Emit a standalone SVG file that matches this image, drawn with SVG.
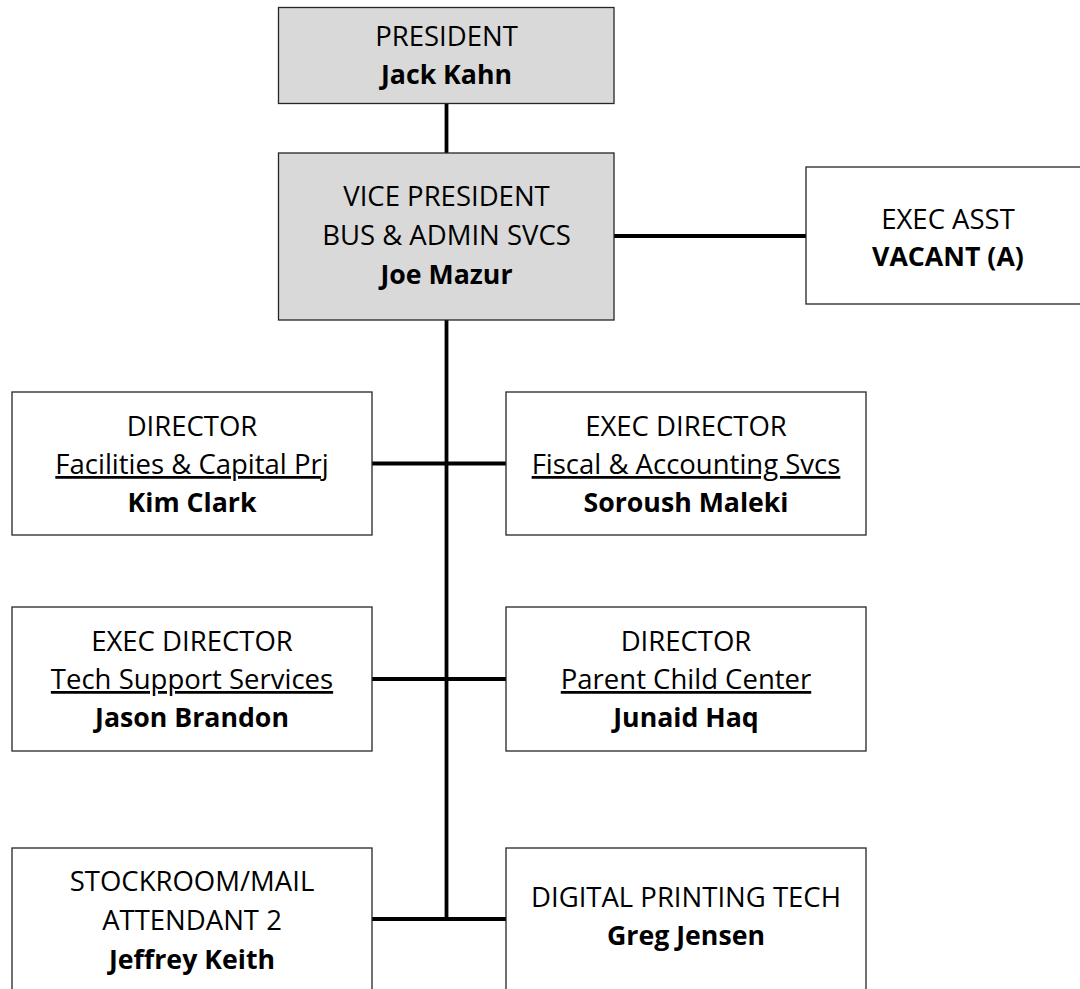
<svg xmlns="http://www.w3.org/2000/svg" width="1080" height="989" viewBox="0 0 1080 989">
<style>
.box{fill:#fff;stroke:#262626;stroke-width:1.3}
.grey{fill:#d9d9d9}
text{font-family:"Open Sans","Liberation Sans",sans-serif;font-size:27.5px;fill:#000;text-anchor:middle}
.b{font-weight:bold;font-size:26.7px}
.u{text-decoration:underline}
.c{stroke:#000;stroke-width:3.8;fill:none}
</style>
<rect width="1080" height="989" fill="#fff"/>
<g id="connectors">
<line class="c" x1="446.5" y1="103.5" x2="446.5" y2="153"/>
<line class="c" x1="614" y1="236" x2="806" y2="236"/>
<line class="c" x1="446.5" y1="320" x2="446.5" y2="919"/>
<line class="c" x1="372" y1="463.5" x2="506" y2="463.5"/>
<line class="c" x1="372" y1="679" x2="506" y2="679"/>
<line class="c" x1="372" y1="919" x2="506" y2="919"/>
</g>
<g id="president">
<rect class="box grey" x="278.5" y="7.5" width="335.5" height="96"/>
<text x="446.5" y="46">PRESIDENT</text>
<text class="b" x="446.5" y="84">Jack Kahn</text>
</g>
<g id="vp">
<rect class="box grey" x="278.5" y="153" width="335.5" height="167"/>
<text x="446.5" y="206">VICE PRESIDENT</text>
<text x="446.5" y="245">BUS &amp; ADMIN SVCS</text>
<text class="b" x="446.5" y="284">Joe Mazur</text>
</g>
<g id="exec-asst">
<rect class="box" x="806" y="167" width="290" height="137"/>
<text x="948" y="229">EXEC ASST</text>
<text class="b" x="948" y="266">VACANT (A)</text>
</g>
<g id="facilities">
<rect class="box" x="12" y="392" width="360" height="143"/>
<text x="192" y="436">DIRECTOR</text>
<text class="u" x="192" y="474">Facilities &amp; Capital Prj</text>
<text class="b" x="192" y="512">Kim Clark</text>
</g>
<g id="fiscal">
<rect class="box" x="506" y="392" width="360" height="143"/>
<text x="686" y="436">EXEC DIRECTOR</text>
<text class="u" x="686" y="474">Fiscal &amp; Accounting Svcs</text>
<text class="b" x="686" y="512">Soroush Maleki</text>
</g>
<g id="tech">
<rect class="box" x="12" y="607" width="360" height="144"/>
<text x="192" y="651">EXEC DIRECTOR</text>
<text class="u" x="192" y="689">Tech Support Services</text>
<text class="b" x="192" y="727">Jason Brandon</text>
</g>
<g id="parent-child">
<rect class="box" x="506" y="607" width="360" height="144"/>
<text x="686" y="651">DIRECTOR</text>
<text class="u" x="686" y="689">Parent Child Center</text>
<text class="b" x="686" y="727">Junaid Haq</text>
</g>
<g id="stockroom">
<rect class="box" x="12" y="848" width="360" height="160"/>
<text x="192" y="891">STOCKROOM/MAIL</text>
<text x="192" y="930">ATTENDANT 2</text>
<text class="b" x="192" y="969">Jeffrey Keith</text>
</g>
<g id="printing">
<rect class="box" x="506" y="848" width="360" height="160"/>
<text x="686" y="907">DIGITAL PRINTING TECH</text>
<text class="b" x="686" y="945">Greg Jensen</text>
</g>
</svg>
